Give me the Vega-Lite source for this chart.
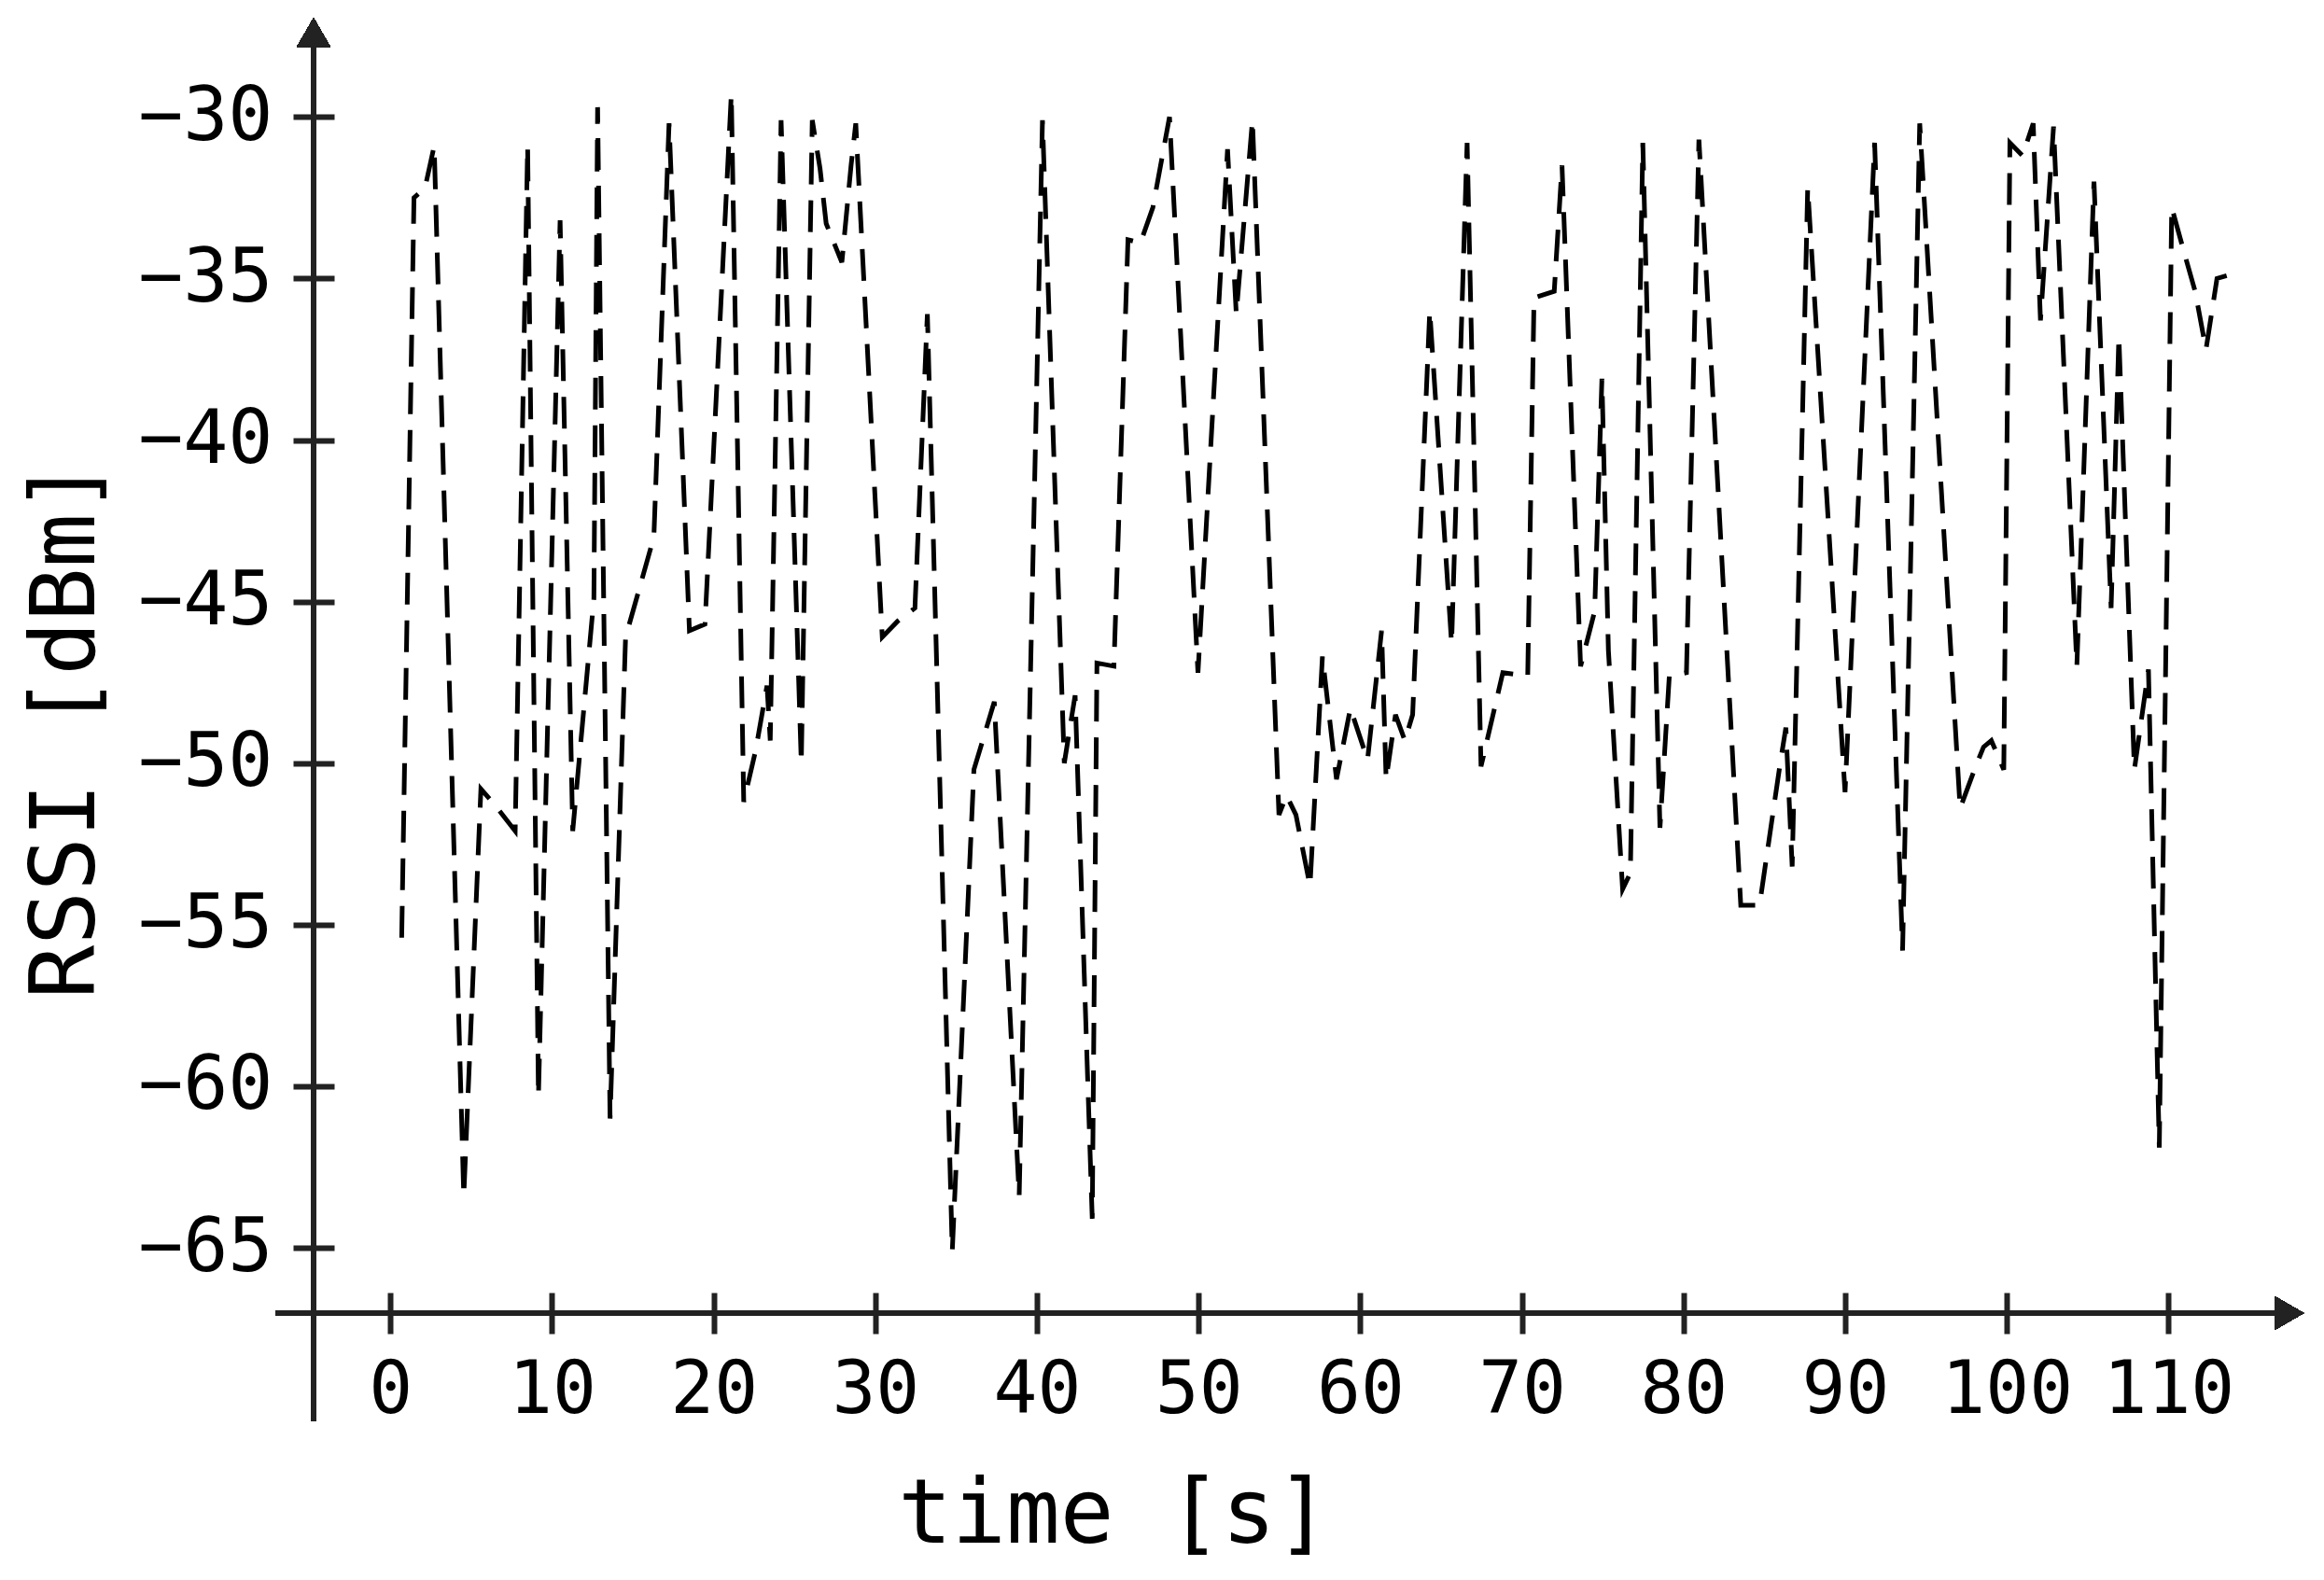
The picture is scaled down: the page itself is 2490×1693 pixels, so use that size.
{
  "$schema": "https://vega.github.io/schema/vega-lite/v6.json",
  "width": 2132,
  "height": 1388,
  "autosize": {"type": "none"},
  "padding": {"left": 336, "top": 19, "right": 22, "bottom": 286},
  "background": "white",
  "config": {"view": {"stroke": null}, "font": "DejaVu Sans Mono"},
  "data": {"values": [
    {"t": 0.7, "rssi": -55.4}, {"t": 1.46, "rssi": -32.5}, {"t": 2.14, "rssi": -32.2}, {"t": 2.71, "rssi": -30.9},
    {"t": 4.54, "rssi": -63.4}, {"t": 5.6, "rssi": -50.8}, {"t": 6.47, "rssi": -51.3}, {"t": 7.72, "rssi": -52.1},
    {"t": 8.49, "rssi": -30.9}, {"t": 9.16, "rssi": -60.3}, {"t": 10.5, "rssi": -33.2}, {"t": 11.28, "rssi": -52.1},
    {"t": 12.59, "rssi": -44.9}, {"t": 12.82, "rssi": -29.7}, {"t": 13.59, "rssi": -61.0}, {"t": 14.55, "rssi": -46.1},
    {"t": 15.4, "rssi": -44.6}, {"t": 16.3, "rssi": -43.0}, {"t": 17.24, "rssi": -30.2}, {"t": 18.5, "rssi": -45.9},
    {"t": 19.46, "rssi": -45.7}, {"t": 21.09, "rssi": -29.3}, {"t": 21.86, "rssi": -51.2}, {"t": 22.6, "rssi": -49.6},
    {"t": 23.3, "rssi": -47.6}, {"t": 23.5, "rssi": -49.3}, {"t": 24.17, "rssi": -30.1}, {"t": 25.42, "rssi": -50.0},
    {"t": 26.1, "rssi": -30.1}, {"t": 26.58, "rssi": -31.6}, {"t": 26.96, "rssi": -33.3}, {"t": 27.93, "rssi": -34.5},
    {"t": 28.5, "rssi": -31.5}, {"t": 28.79, "rssi": -30.2}, {"t": 30.43, "rssi": -46.1}, {"t": 31.39, "rssi": -45.6},
    {"t": 32.45, "rssi": -45.2}, {"t": 33.22, "rssi": -36.1}, {"t": 34.76, "rssi": -65.1}, {"t": 36.1, "rssi": -50.2},
    {"t": 37.36, "rssi": -48.1}, {"t": 38.9, "rssi": -63.4}, {"t": 40.34, "rssi": -30.1}, {"t": 41.69, "rssi": -50.0},
    {"t": 42.36, "rssi": -47.9}, {"t": 43.42, "rssi": -64.1}, {"t": 43.71, "rssi": -46.9}, {"t": 44.76, "rssi": -47.0},
    {"t": 45.63, "rssi": -33.8}, {"t": 46.4, "rssi": -33.9}, {"t": 47.17, "rssi": -32.8}, {"t": 48.2, "rssi": -30.0},
    {"t": 49.96, "rssi": -47.2}, {"t": 51.79, "rssi": -31.0}, {"t": 52.33, "rssi": -36.1}, {"t": 53.33, "rssi": -30.1},
    {"t": 54.97, "rssi": -51.6}, {"t": 55.44, "rssi": -51.0}, {"t": 56.02, "rssi": -51.6}, {"t": 56.89, "rssi": -53.8},
    {"t": 57.66, "rssi": -46.7}, {"t": 58.53, "rssi": -50.5}, {"t": 59.39, "rssi": -48.3}, {"t": 60.45, "rssi": -49.9},
    {"t": 61.32, "rssi": -45.9}, {"t": 61.6, "rssi": -50.5}, {"t": 62.18, "rssi": -48.5}, {"t": 62.76, "rssi": -49.3},
    {"t": 63.24, "rssi": -48.5}, {"t": 64.3, "rssi": -36.0}, {"t": 65.65, "rssi": -46.3}, {"t": 66.61, "rssi": -30.8},
    {"t": 67.47, "rssi": -50.1}, {"t": 68.82, "rssi": -47.2}, {"t": 70.36, "rssi": -47.3}, {"t": 70.75, "rssi": -35.6},
    {"t": 72.0, "rssi": -35.4}, {"t": 72.48, "rssi": -31.5}, {"t": 73.63, "rssi": -47.0}, {"t": 74.5, "rssi": -45.3},
    {"t": 74.95, "rssi": -38.1}, {"t": 75.35, "rssi": -46.5}, {"t": 76.23, "rssi": -53.9}, {"t": 76.71, "rssi": -53.4},
    {"t": 77.48, "rssi": -30.8}, {"t": 78.54, "rssi": -52.0}, {"t": 79.12, "rssi": -47.3}, {"t": 80.18, "rssi": -47.2},
    {"t": 80.95, "rssi": -30.7}, {"t": 83.54, "rssi": -54.4}, {"t": 84.7, "rssi": -54.4}, {"t": 85.95, "rssi": -50.1},
    {"t": 86.33, "rssi": -48.9}, {"t": 86.72, "rssi": -53.2}, {"t": 87.68, "rssi": -32.2}, {"t": 89.99, "rssi": -50.9},
    {"t": 91.82, "rssi": -30.8}, {"t": 93.55, "rssi": -55.8}, {"t": 94.61, "rssi": -30.2}, {"t": 97.11, "rssi": -51.4},
    {"t": 98.07, "rssi": -50.1}, {"t": 98.56, "rssi": -49.5}, {"t": 99.04, "rssi": -49.3}, {"t": 99.81, "rssi": -50.2},
    {"t": 100.19, "rssi": -30.8}, {"t": 100.97, "rssi": -31.2}, {"t": 101.63, "rssi": -30.2}, {"t": 102.08, "rssi": -36.3},
    {"t": 102.89, "rssi": -30.3}, {"t": 104.33, "rssi": -47.0}, {"t": 105.39, "rssi": -32.0}, {"t": 106.45, "rssi": -45.2},
    {"t": 106.93, "rssi": -36.8}, {"t": 107.89, "rssi": -50.2}, {"t": 108.76, "rssi": -47.1}, {"t": 109.43, "rssi": -61.9},
    {"t": 110.2, "rssi": -32.8}, {"t": 110.97, "rssi": -34.2}, {"t": 111.65, "rssi": -35.4}, {"t": 112.32, "rssi": -37.2},
    {"t": 113.0, "rssi": -35.0}, {"t": 113.67, "rssi": -34.9}
  ]},
  "layer": [
    {
      "mark": {"type": "line", "color": "black", "strokeWidth": 5, "strokeDash": [34, 17], "clip": false},
      "encoding": {
        "x": {
          "field": "t", "type": "quantitative",
          "scale": {"domain": [-4.75, 118.35], "nice": false, "zero": false},
          "axis": {
            "values": [0, 10, 20, 30, 40, 50, 60, 70, 80, 90, 100, 110],
            "domain": false, "grid": false,
            "offset": -22, "tickSize": 44, "tickWidth": 6, "tickColor": "#222",
            "labelFont": "DejaVu Sans Mono", "labelFontSize": 78, "labelColor": "black", "labelPadding": 22,
            "labelFlush": false, "labelOverlap": false,
            "title": "time [s]", "titleFont": "DejaVu Sans Mono", "titleFontSize": 96, "titleFontWeight": "normal",
            "titleColor": "black", "titleX": 857, "titleY": 238, "titleAlign": "center", "titleBaseline": "middle", "titleAnchor": null
          }
        },
        "y": {
          "field": "rssi", "type": "quantitative",
          "scale": {"domain": [-67.02, -26.93], "nice": false, "zero": false},
          "axis": {
            "values": [-65, -60, -55, -50, -45, -40, -35, -30],
            "domain": false, "grid": false,
            "offset": -22, "tickSize": 44, "tickWidth": 6, "tickColor": "#222",
            "labelFont": "DejaVu Sans Mono", "labelFontSize": 80, "labelColor": "black", "labelPadding": 22,
            "labelFlush": false, "labelOverlap": false,
            "title": "RSSI [dBm]", "titleFont": "DejaVu Sans Mono", "titleFontSize": 96, "titleFontWeight": "normal",
            "titleColor": "black", "titleX": -287, "titleY": 762, "titleAlign": "center", "titleBaseline": "middle", "titleAnchor": null
          }
        }
      }
    },
    {
      "mark": {"type": "rule", "color": "#222", "strokeWidth": 6, "clip": false},
      "encoding": {
        "x": {"datum": -4.75, "type": "quantitative"},
        "y": {"datum": -70.35, "type": "quantitative"},
        "y2": {"datum": -27.39}
      }
    },
    {
      "mark": {"type": "rule", "color": "#222", "strokeWidth": 6, "clip": false},
      "encoding": {
        "x": {"datum": -7.07, "type": "quantitative"},
        "x2": {"datum": 117.46},
        "y": {"datum": -67.02, "type": "quantitative"}
      }
    },
    {
      "mark": {"type": "point", "shape": "triangle-up", "size": 1300, "filled": true, "color": "#222", "opacity": 1, "clip": false},
      "encoding": {
        "x": {"datum": -4.75, "type": "quantitative"},
        "y": {"datum": -27.39, "type": "quantitative"}
      }
    },
    {
      "mark": {"type": "point", "shape": "triangle-right", "size": 1300, "filled": true, "color": "#222", "opacity": 1, "clip": false},
      "encoding": {
        "x": {"datum": 117.46, "type": "quantitative"},
        "y": {"datum": -67.02, "type": "quantitative"}
      }
    }
  ]
}
